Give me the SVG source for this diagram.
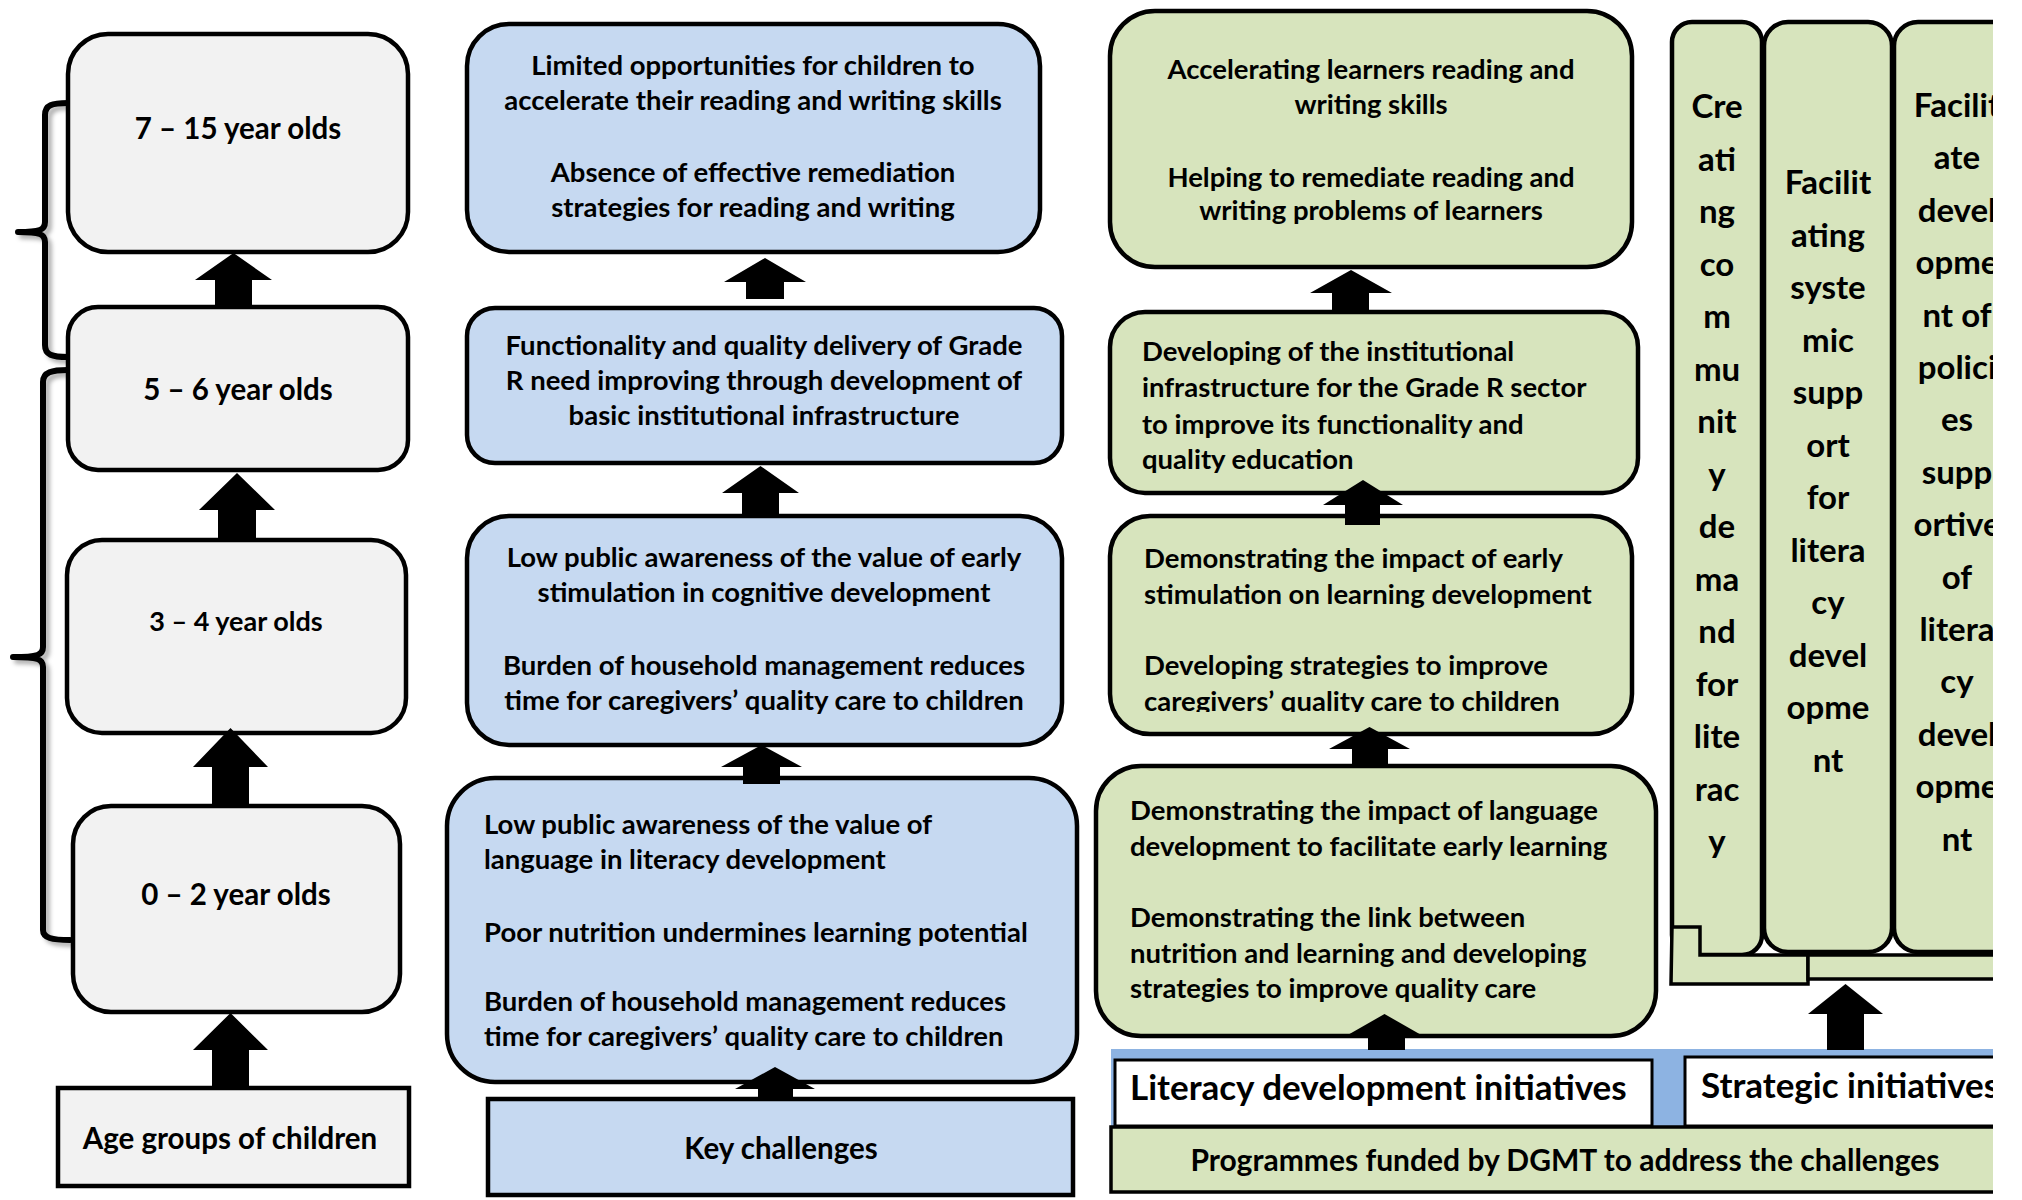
<svg xmlns="http://www.w3.org/2000/svg" width="2022" height="1200" viewBox="0 0 2022 1200">
<style>
.t{font-family:Lato,'Liberation Sans',sans-serif;font-weight:bold;fill:#000}
.b{stroke:#000;stroke-width:4.5}
.gray{fill:#f2f2f2}.blue{fill:#c6d9f1}.green{fill:#d7e4bd}
.c{text-anchor:middle}
.s24{font-size:27.5px}.s27{font-size:29.5px}.s26{font-size:27px}.s31{font-size:33px}.s33{font-size:35px}
.br{fill:none;stroke:#000;stroke-width:6;stroke-linecap:round;stroke-linejoin:round}
.arr{fill:#000}
</style>
<defs>
<filter id="sh" x="-20%" y="-5%" width="160%" height="110%"><feDropShadow dx="4" dy="4" stdDeviation="2" flood-color="#000" flood-opacity="0.3"/></filter>
<clipPath id="clipR"><rect x="0" y="0" width="1993" height="1200"/></clipPath>
<clipPath id="clipB3"><rect x="1100" y="500" width="560" height="212"/></clipPath>
</defs>
<rect width="2022" height="1200" fill="#fff"/>

<g id="brackets" filter="url(#sh)">
<path class="br" d="M68,103 C52,103 45,105 45,115 L45,222 C45,230 40,232 18,232 C40,232 45,234 45,242 L45,345 C45,355 52,357 68,357"/>
<path class="br" d="M68,370 C52,370 43,372 43,382 L43,647 C43,655 38,657 13,657 C38,657 43,659 43,667 L43,930 C43,938 52,940 70,940"/>
</g>

<g id="age-7-15"><rect class="b gray" x="68" y="34" width="340" height="218" rx="40"/><text class="t s27 c" x="238" y="138.5">7 – 15 year olds</text></g>
<g id="age-5-6"><rect class="b gray" x="68" y="307" width="340" height="163" rx="30"/><text class="t s27 c" x="238" y="399.5">5 – 6 year olds</text></g>
<g id="age-3-4"><rect class="b gray" x="67" y="540" width="339" height="193" rx="35"/><text class="t s26 c" x="236" y="631">3 – 4 year olds</text></g>
<g id="age-0-2"><rect class="b gray" x="73" y="806" width="327" height="206" rx="38"/><text class="t s27 c" x="236" y="904.5">0 – 2 year olds</text></g>
<g id="age-groups"><rect class="b gray" x="58" y="1088" width="351" height="98"/><text class="t s27 c" x="230" y="1148.5">Age groups of children</text></g>

<g id="ch-1"><rect class="b blue" x="467" y="24" width="573" height="228" rx="42"/>
<text class="t s24 c"><tspan x="753" y="74.5">Limited opportunities for children to</tspan><tspan x="753" y="109.5">accelerate their reading and writing skills</tspan><tspan x="753" y="181.5">Absence of effective remediation</tspan><tspan x="753" y="216.5">strategies for reading and writing</tspan></text></g>
<g id="ch-2"><rect class="b blue" x="467" y="308" width="595" height="155" rx="28"/>
<text class="t s24 c"><tspan x="764" y="354.5">Functionality and quality delivery of Grade</tspan><tspan x="764" y="389.5">R need improving through development of</tspan><tspan x="764" y="424.5">basic institutional infrastructure</tspan></text></g>
<g id="ch-3"><rect class="b blue" x="467" y="516" width="595" height="229" rx="42"/>
<text class="t s24 c"><tspan x="764" y="566.5">Low public awareness of the value of early</tspan><tspan x="764" y="601.5">stimulation in cognitive development</tspan><tspan x="764" y="674.5">Burden of household management reduces</tspan><tspan x="764" y="709.5">time for caregivers’ quality care to children</tspan></text></g>
<g id="ch-4"><rect class="b blue" x="447" y="778" width="630" height="304" rx="48"/>
<text class="t s24"><tspan x="484" y="833.5">Low public awareness of the value of</tspan><tspan x="484" y="868.5">language in literacy development</tspan><tspan x="484" y="941.5">Poor nutrition undermines learning potential</tspan><tspan x="484" y="1010.5">Burden of household management reduces</tspan><tspan x="484" y="1045.5">time for caregivers’ quality care to children</tspan></text></g>
<g id="key-challenges"><rect class="b blue" x="488" y="1099" width="585" height="96"/><text class="t s27 c" x="781" y="1158.5">Key challenges</text></g>

<g id="lit-1"><rect class="b green" x="1110" y="11" width="522" height="256" rx="45"/>
<text class="t s24 c"><tspan x="1371" y="78.5">Accelerating learners reading and</tspan><tspan x="1371" y="113.5">writing skills</tspan><tspan x="1371" y="186.5">Helping to remediate reading and</tspan><tspan x="1371" y="219.5">writing problems of learners</tspan></text></g>
<g id="lit-2"><rect class="b green" x="1110" y="312" width="528" height="181" rx="35"/>
<text class="t s24"><tspan x="1142" y="360.5">Developing of the institutional</tspan><tspan x="1142" y="396.5">infrastructure for the Grade R sector</tspan><tspan x="1142" y="433.5">to improve its functionality and</tspan><tspan x="1142" y="468.5">quality education</tspan></text></g>
<g id="lit-3"><rect class="b green" x="1110" y="516" width="522" height="218" rx="40"/>
<text class="t s24" clip-path="url(#clipB3)"><tspan x="1144" y="567.5">Demonstrating the impact of early</tspan><tspan x="1144" y="603.5">stimulation on learning development</tspan><tspan x="1144" y="674.5">Developing strategies to improve</tspan><tspan x="1144" y="710.5">caregivers’ quality care to children</tspan></text></g>
<g id="lit-4"><rect class="b green" x="1096" y="766" width="560" height="270" rx="45"/>
<text class="t s24"><tspan x="1130" y="819.5">Demonstrating the impact of language</tspan><tspan x="1130" y="855.5">development to facilitate early learning</tspan><tspan x="1130" y="926.5">Demonstrating the link between</tspan><tspan x="1130" y="962.5">nutrition and learning and developing</tspan><tspan x="1130" y="997.5">strategies to improve quality care</tspan></text></g>

<g clip-path="url(#clipR)">
<g id="strat-1"><rect class="b green" x="1672" y="22" width="90" height="933" rx="20"/>
<text class="t s31 c"><tspan x="1717" y="118">Cre</tspan><tspan x="1717" y="170.5">ati</tspan><tspan x="1717" y="223">ng</tspan><tspan x="1717" y="275.5">co</tspan><tspan x="1717" y="328">m</tspan><tspan x="1717" y="380.5">mu</tspan><tspan x="1717" y="433">nit</tspan><tspan x="1717" y="485.5">y</tspan><tspan x="1717" y="538">de</tspan><tspan x="1717" y="590.5">ma</tspan><tspan x="1717" y="643">nd</tspan><tspan x="1717" y="695.5">for</tspan><tspan x="1717" y="748">lite</tspan><tspan x="1717" y="800.5">rac</tspan><tspan x="1717" y="853">y</tspan></text></g>
<g id="strat-2"><rect class="b green" x="1764" y="22" width="128" height="930" rx="24"/>
<text class="t s31 c"><tspan x="1828" y="194">Facilit</tspan><tspan x="1828" y="246.5">ating</tspan><tspan x="1828" y="299">syste</tspan><tspan x="1828" y="351.5">mic</tspan><tspan x="1828" y="404">supp</tspan><tspan x="1828" y="456.5">ort</tspan><tspan x="1828" y="509">for</tspan><tspan x="1828" y="561.5">litera</tspan><tspan x="1828" y="614">cy</tspan><tspan x="1828" y="666.5">devel</tspan><tspan x="1828" y="719">opme</tspan><tspan x="1828" y="771.5">nt</tspan></text></g>
<g id="strat-3"><rect class="b green" x="1894" y="22" width="128" height="930" rx="24"/>
<text class="t s31 c"><tspan x="1957" y="117">Facilit</tspan><tspan x="1957" y="169.4">ate</tspan><tspan x="1957" y="221.8">devel</tspan><tspan x="1957" y="274.2">opme</tspan><tspan x="1957" y="326.6">nt of</tspan><tspan x="1957" y="379">polici</tspan><tspan x="1957" y="431.4">es</tspan><tspan x="1957" y="483.8">supp</tspan><tspan x="1957" y="536.2">ortive</tspan><tspan x="1957" y="588.6">of</tspan><tspan x="1957" y="641">litera</tspan><tspan x="1957" y="693.4">cy</tspan><tspan x="1957" y="745.8">devel</tspan><tspan x="1957" y="798.2">opme</tspan><tspan x="1957" y="850.6">nt</tspan></text></g>
<g id="strat-base">
<path class="green" stroke="#000" stroke-width="3.5" d="M1672,927 L1700,927 L1700,955 L1808,955 L1808,984 L1671,984 Z"/>
<rect class="green" stroke="#000" stroke-width="3.5" x="1808" y="955" width="230" height="24"/>
</g>
<g id="programmes">
<rect fill="#8db3e2" x="1111" y="1049" width="930" height="78"/>
<rect class="green" stroke="#000" stroke-width="3.5" x="1111" y="1127" width="930" height="65"/>
<text class="t" style="font-size:30px" text-anchor="middle" x="1565" y="1171">Programmes funded by DGMT to address the challenges</text>
</g>
<g id="literacy-initiatives"><rect fill="#fff" stroke="#000" stroke-width="3" x="1115" y="1060" width="537" height="66"/><text class="t s33" x="1130" y="1100">Literacy development initiatives</text></g>
<g id="strategic-initiatives"><rect fill="#fff" stroke="#000" stroke-width="3" x="1685" y="1057" width="360" height="69"/><text class="t s33" x="1701" y="1098">Strategic initiatives</text></g>
</g>

<g id="connectors" class="arr">
<path d="M193,1050 L230.5,1013 L268,1050 L249,1050 L249,1090 L212,1090 L212,1050 Z"/>
<path d="M193,767 L230.5,728 L268,767 L249,767 L249,806 L212,806 L212,767 Z"/>
<path d="M199,510 L237,473 L275,510 L256,510 L256,541 L218,541 L218,510 Z"/>
<path d="M195,280 L233.5,253 L272,280 L252,280 L252,307 L215,307 L215,280 Z"/>
<path d="M724,282 L765,258 L806,282 L784,282 L784,299 L746,299 L746,282 Z"/>
<path d="M722,493 L760.5,466 L799,493 L779,493 L779,516 L742,516 L742,493 Z"/>
<path d="M721,767 L761.5,745 L802,767 L780,767 L780,784 L743,784 L743,767 Z"/>
<path d="M735,1089 L775,1067 L815,1089 L793,1089 L793,1099 L758,1099 L758,1089 Z"/>
<path d="M1310,293 L1351,270 L1392,293 L1369,293 L1369,312 L1332,312 L1332,293 Z"/>
<path d="M1323,505 L1363,480 L1403,505 L1380,505 L1380,525 L1345,525 L1345,505 Z"/>
<path d="M1329,749 L1369.5,727 L1410,749 L1388,749 L1388,766 L1352,766 L1352,749 Z"/>
<path d="M1346,1036 L1384.5,1014 L1423,1036 L1405,1036 L1405,1050 L1368,1050 L1368,1036 Z"/>
<path d="M1808,1014 L1845.5,984 L1883,1014 L1864,1014 L1864,1050 L1827,1050 L1827,1014 Z"/>
</g>
</svg>
